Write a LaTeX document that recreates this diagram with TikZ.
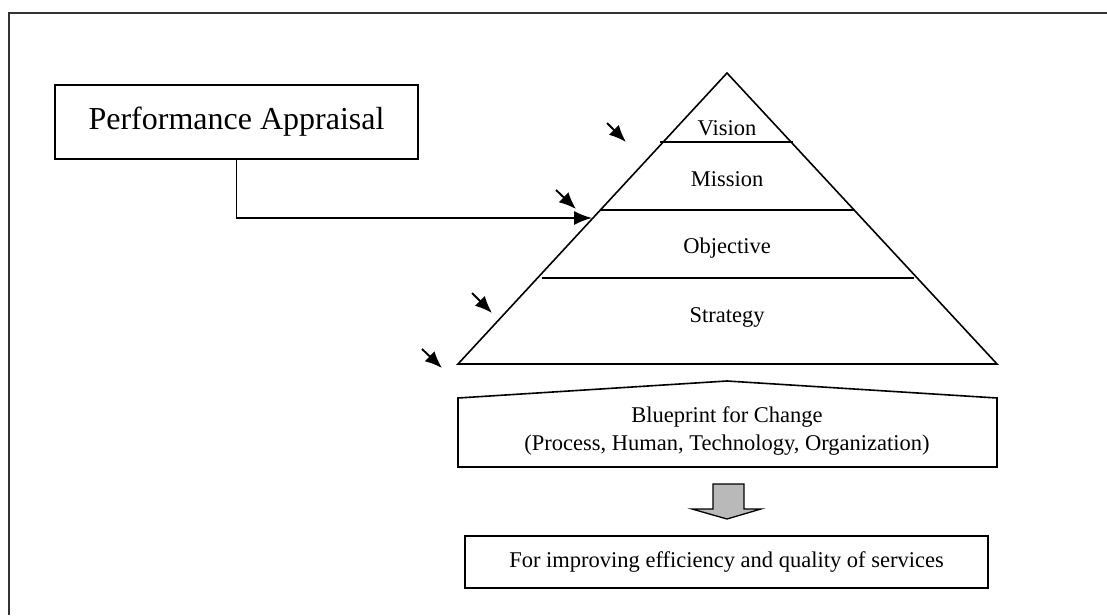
\documentclass[tikz,border=0pt]{standalone}
\usepackage{fontspec}
\setmainfont{Liberation Serif}
\usetikzlibrary{arrows.meta}
\begin{document}
\begin{tikzpicture}[x=1pt,y=-1pt, line width=1.6pt, line join=miter,
  lbl/.style={font=\fontsize{22.5}{28}\selectfont, inner sep=0pt},
  boxed/.style={draw, inner sep=0pt},
  smallarrow/.style={-{Latex[length=17pt,width=14pt]}, line width=1.9pt}]
\useasboundingbox (0,0) rectangle (1107,615);
% outer frame
\draw[line width=2pt, black!80] (9,615) -- (9,13) -- (1107,13);
% performance appraisal
\node[boxed, minimum width=363pt, minimum height=74pt, font=\fontsize{32}{38}\selectfont] (pa) at (236.5,122) {Performance Appraisal};
% pyramid
\coordinate (apex) at (727,73);
\coordinate (bl) at (458,364);
\coordinate (br) at (997,364);
\draw (apex) -- (br) -- (bl) -- cycle;
\draw (660,142) -- (793,142);
\draw (600,210) -- (854,210);
\draw (542,278) -- (914,278);
\node[lbl] (vision) at (727,128) {Vision};
\node[lbl] (mission) at (727,179) {Mission};
\node[lbl] (objective) at (727,248) {Objective};
\node[lbl] (strategy) at (727,317) {Strategy};
% connector
\coordinate (hit) at (592,218);
\draw[-{Latex[length=18pt,width=14pt]}] (pa.south) |- (hit);
% small arrows
\coordinate (a1s) at (607,123); \coordinate (a1e) at (626,142);
\coordinate (a2s) at (556,190); \coordinate (a2e) at (576,209);
\coordinate (a3s) at (472,293); \coordinate (a3e) at (492,313);
\coordinate (a4s) at (422,349); \coordinate (a4e) at (442,368);
\draw[smallarrow] (a1s) -- (a1e);
\draw[smallarrow] (a2s) -- (a2e);
\draw[smallarrow] (a3s) -- (a3e);
\draw[smallarrow] (a4s) -- (a4e);
% blueprint
\draw (458,467) -- (458,398) -- (727,381) -- (997,398) -- (997,467) -- cycle;
\node[lbl, align=center] (bp) at (727,431) {Blueprint for Change\\(Process, Human, Technology, Organization)};
% grey arrow
\draw[fill=gray!55, line width=1.3pt] (713,484) -- (744,484) -- (744,509) -- (761,509) -- (727,519) -- (692,509) -- (713,509) -- cycle;
% final box
\node[boxed, lbl, minimum width=523pt, minimum height=52pt] (final) at (726.5,562) {For improving efficiency and quality of services};
\end{tikzpicture}
\end{document}
